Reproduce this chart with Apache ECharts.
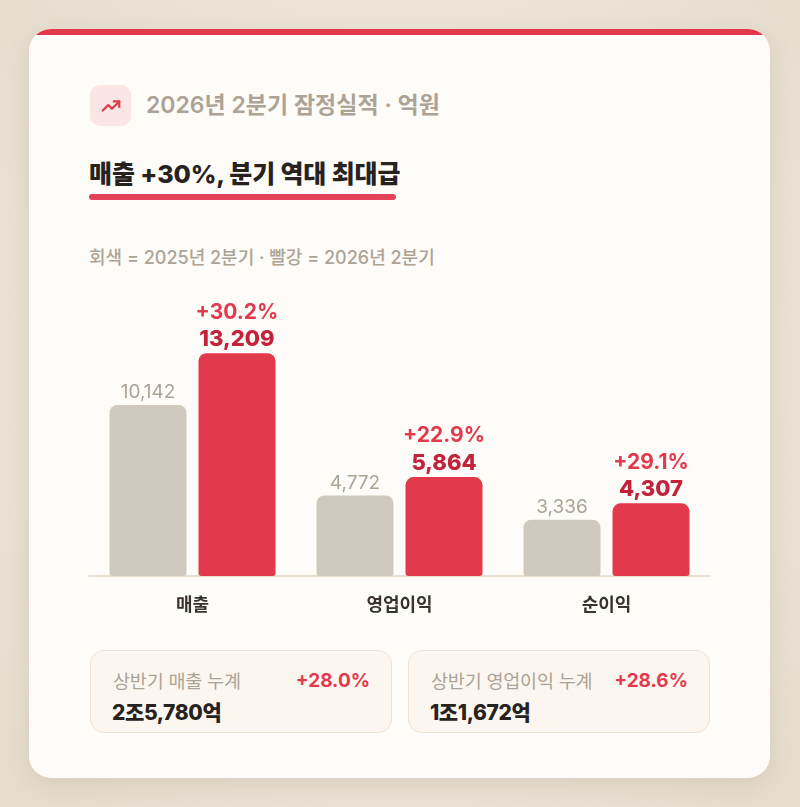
<!DOCTYPE html>
<html><head><meta charset="utf-8">
<script src="https://cdn.jsdelivr.net/npm/echarts@6/dist/echarts.min.js"></script>
<style>
html,body{margin:0;padding:0;width:800px;height:807px;overflow:hidden;}
body{background:radial-gradient(ellipse at 50% 45%, #f2ece2 0%, #ebe3d6 60%, #e5dccd 100%);font-family:Inter,"Noto Sans CJK KR","Noto Sans",sans-serif;position:relative;}
#card{position:absolute;left:29px;top:29px;width:741px;height:749px;background:#fdfcf8;border-radius:22px;overflow:hidden;box-shadow:0 6px 24px rgba(120,95,60,0.14);}
#card .band{position:absolute;left:0;top:0;width:100%;height:6px;background:#e3394d;}
#icon{position:absolute;left:61px;top:56px;width:41px;height:41px;border-radius:10px;background:#fbe5e5;display:flex;align-items:center;justify-content:center;}
#title{position:absolute;left:117px;top:60px;font-size:23px;font-weight:600;color:#ada394;line-height:32px;letter-spacing:0px;white-space:nowrap;}
#head{position:absolute;left:60px;top:128px;font-size:25px;font-weight:800;color:#27221e;line-height:34px;letter-spacing:-0.1px;white-space:nowrap;}
#uline{position:absolute;left:60px;top:165px;width:307px;height:6px;border-radius:3px;background:#e4425a;}
#sub{position:absolute;left:60px;top:217px;font-size:18px;font-weight:500;color:#ada394;line-height:24px;letter-spacing:0px;white-space:nowrap;}
.box{position:absolute;top:621px;height:83px;border-radius:14px;background:#fbf7f0;border:1px solid #ece2d4;box-sizing:border-box;}
.box .lb{position:absolute;left:22px;top:17px;font-size:18.5px;color:#ada394;line-height:26px;letter-spacing:-0.2px;white-space:nowrap;}
.box .pc{position:absolute;right:21px;top:17px;font-size:19px;font-weight:700;color:#e3394d;line-height:26px;letter-spacing:0px;}
.box .vl{position:absolute;left:21px;top:48px;font-size:21px;font-weight:800;color:#27221e;line-height:28px;letter-spacing:-0.4px;white-space:nowrap;}
#chart{position:absolute;left:0;top:0;width:800px;height:807px;}
</style></head>
<body>
<div id="card">
  <div class="band"></div>
  <div id="icon"><svg width="22" height="22" viewBox="0 0 24 24" fill="none" stroke="#e3394d" stroke-width="2.4" stroke-linecap="round" stroke-linejoin="round"><polyline points="3 17 9 11 13 15 21 7"/><polyline points="15 7 21 7 21 13"/></svg></div>
  <div id="title">2026년 2분기 잠정실적 · 억원</div>
  <div id="head">매출 +30%, 분기 역대 최대급</div>
  <div id="uline"></div>
  <div id="sub">회색 = 2025년 2분기 · 빨강 = 2026년 2분기</div>
  <div id="boxes"></div>
</div>
<div id="chart"></div>
<script>
var categories = ['매출', '영업이익', '순이익'];
var prevValues = [10142, 4772, 3336];
var currValues = [13209, 5864, 4307];
var growthLabels = ['+30.2%', '+22.9%', '+29.1%'];
var summaryLabels = ['상반기 매출 누계', '상반기 영업이익 누계'];
var summaryValues = ['2조5,780억', '1조1,672억'];
var summaryGrowth = ['+28.0%', '+28.6%'];

var boxLefts = [61, 379];
var html = '';
for (var i = 0; i < summaryLabels.length; i++) {
  html += '<div class="box" style="left:' + boxLefts[i] + 'px;width:302px;">' +
    '<div class="lb">' + summaryLabels[i] + '</div>' +
    '<div class="pc">' + summaryGrowth[i] + '</div>' +
    '<div class="vl">' + summaryValues[i] + '</div></div>';
}
document.getElementById('boxes').innerHTML = html;

function fmt(v){ return v.toLocaleString('en-US'); }
var FONT = 'Inter,"Noto Sans CJK KR","Noto Sans",sans-serif';
var chart = echarts.init(document.getElementById('chart'), null, {renderer:'canvas'});
chart.setOption({
  backgroundColor: 'transparent',
  animation: false,
  grid: {left: 89, right: 90, top: 323, bottom: 231},
  xAxis: {
    type: 'category', data: categories,
    axisLine: {lineStyle: {color: '#e2d6c5', width: 1.5}},
    axisTick: {show: false},
    axisLabel: {color: '#3a332d', fontSize: 18, fontWeight: 700, margin: 21, fontFamily: FONT}
  },
  yAxis: {type: 'value', min: 0, max: 15000, show: false, splitLine: {show: false}},
  series: [
    {
      type: 'bar', data: prevValues, barWidth: 77, barGap: '15.6%',
      itemStyle: {color: '#d0c9bd', borderRadius: [8, 8, 3, 3]},
      label: {show: true, position: 'top', distance: 3, color: '#ada394', fontSize: 19, fontFamily: FONT,
        formatter: function(p){ return fmt(p.value); }}
    },
    {
      type: 'bar', data: currValues, barWidth: 77,
      itemStyle: {color: '#e3394d', borderRadius: [8, 8, 3, 3]},
      label: {show: true, position: 'top', distance: 1, fontFamily: FONT,
        formatter: function(p){ return '{p|' + growthLabels[p.dataIndex] + '}\n{v|' + fmt(p.value) + '}'; },
        rich: {
          p: {color: '#e3394d', fontSize: 21, fontWeight: 700, lineHeight: 28, fontFamily: FONT},
          v: {color: '#c4213a', fontSize: 22, fontWeight: 800, lineHeight: 26, fontFamily: FONT}
        }}
    }
  ]
});
</script>
</body></html>
